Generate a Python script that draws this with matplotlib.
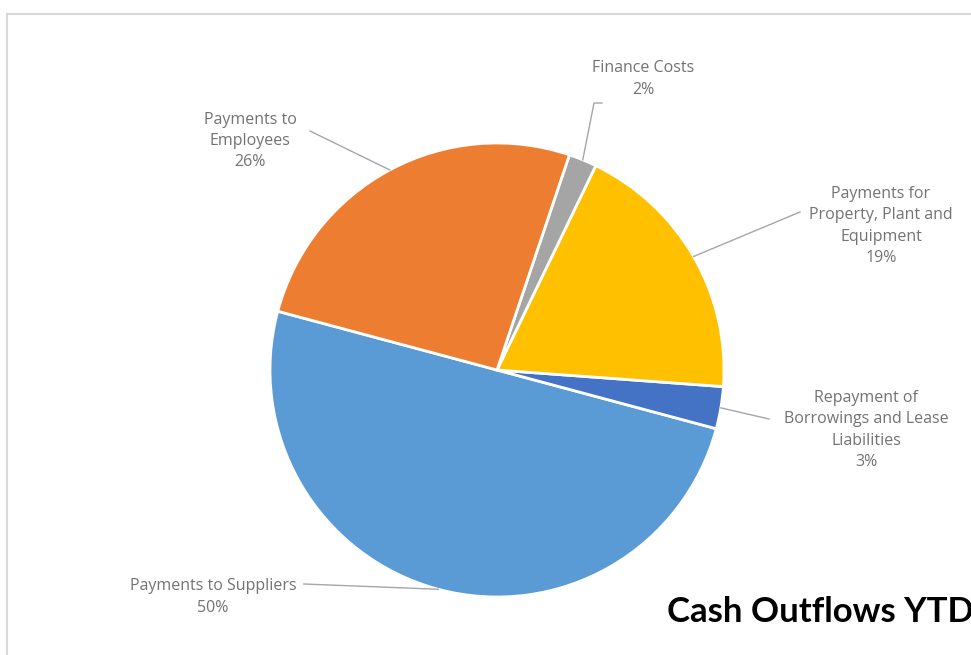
import numpy as np
import matplotlib.pyplot as plt
from matplotlib.lines import Line2D

# Cash outflow breakdown, drawn counter-clockwise starting from the suppliers slice
categories = ['Payments to Suppliers',
              'Repayment of\nBorrowings and Lease\nLiabilities',
              'Payments for\nProperty, Plant and\nEquipment',
              'Finance Costs',
              'Payments to\nEmployees']
shares = [50, 3, 19, 2, 26]
colors = ['#5B9BD5', '#4472C4', '#FFC000', '#A5A5A5', '#ED7D31']

W, H = 971, 655
fig = plt.figure(figsize=(W / 100, H / 100), dpi=100)
ax = fig.add_axes([0, 0, 1, 1])

cx, cy, r = 497, H - 370, 227
wedges, _ = ax.pie(shares, colors=colors, startangle=165, center=(cx, cy), radius=r,
                   frame=True, wedgeprops=dict(edgecolor='white', linewidth=2))
ax.set_xlim(0, W)
ax.set_ylim(0, H)
ax.set_aspect('equal')
ax.axis('off')

# label centre and leader-line start for each slice (pixel coords from top)
label_pos = [(213, 597), (866, 430), (881, 226), (643, 79), (250, 141)]
leader_start = [(304, 584), (769, 419), (800, 212), (594, 103), (310, 131)]

for w, name, v, (lx, ly), (sx, sy) in zip(wedges, categories, shares, label_pos, leader_start):
    ax.text(lx, H - ly, f'{name}\n{v}%', ha='center', va='center', multialignment='center',
            fontsize=11.5, family='Open Sans', color='#737373', linespacing=1.42)
    mid = np.deg2rad((w.theta1 + w.theta2) / 2)
    ex, ey = cx + r * np.cos(mid), cy + r * np.sin(mid)
    xs, ys = [sx, ex], [H - sy, ey]
    if name == 'Finance Costs':
        xs, ys = [sx + 8, sx, ex], [H - sy, H - sy, ey]
    ax.plot(xs, ys, color='#a6a6a6', lw=1)

ax.text(667, H - 612, 'Cash Outflows YTD', ha='left', va='center',
        fontsize=25, fontweight='bold', family='Lato', color='black')

# chart area border
fig.add_artist(Line2D([7 / W, 1], [1 - 14 / H] * 2, transform=fig.transFigure, color='#d9d9d9', lw=1.5))
fig.add_artist(Line2D([7 / W] * 2, [0, 1 - 14 / H], transform=fig.transFigure, color='#d9d9d9', lw=1.5))

fig.savefig('out.png', dpi=100, facecolor='white')
